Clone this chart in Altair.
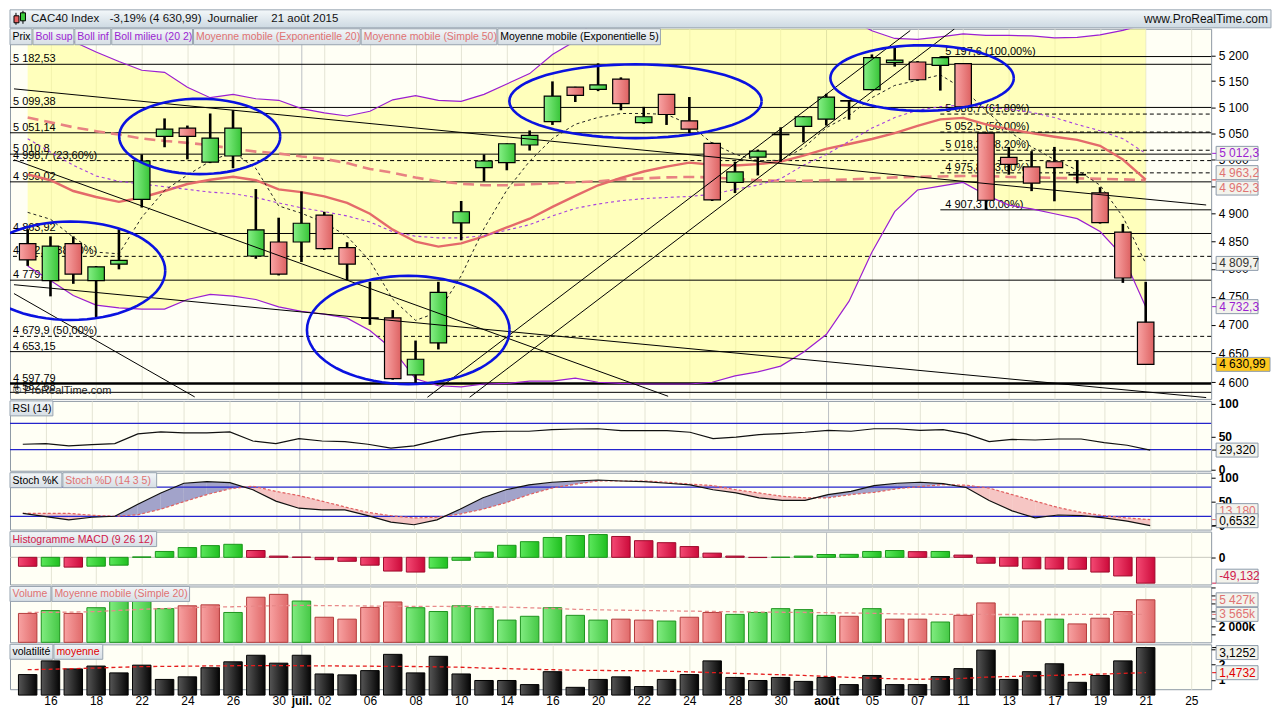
import math
import altair as alt
import pandas as pd

# ------------------------------------------------------------------ data
dates = ["2015-06-15", "2015-06-16", "2015-06-17", "2015-06-18", "2015-06-19", "2015-06-22",
         "2015-06-23", "2015-06-24", "2015-06-25", "2015-06-26", "2015-06-29", "2015-06-30",
         "2015-07-01", "2015-07-02", "2015-07-03", "2015-07-06", "2015-07-07", "2015-07-08",
         "2015-07-09", "2015-07-10", "2015-07-13", "2015-07-14", "2015-07-15", "2015-07-16",
         "2015-07-17", "2015-07-20", "2015-07-21", "2015-07-22", "2015-07-23", "2015-07-24",
         "2015-07-27", "2015-07-28", "2015-07-29", "2015-07-30", "2015-07-31", "2015-08-03",
         "2015-08-04", "2015-08-05", "2015-08-06", "2015-08-07", "2015-08-10", "2015-08-11",
         "2015-08-12", "2015-08-13", "2015-08-14", "2015-08-17", "2015-08-18", "2015-08-19",
         "2015-08-20", "2015-08-21"]

opens = [4845.6, 4778.7, 4845.6, 4778.7, 4808.3, 4926.6, 5044.3, 5059.8, 4996.0, 5007.3,
         4823.0, 4848.4, 4848.4, 4897.6, 4838.1, 4712.5, 4712.6, 4612.7, 4668.6, 4883.5,
         4985.7, 4994.9, 5028.0, 5072.2, 5138.3, 5134.0, 5153.9, 5070.4, 5124.5, 5073.9,
         5031.2, 4958.2, 5005.4, 5047.5, 5063.1, 5076.9, 5112.5, 5133.7, 5185.7, 5187.0,
         5180.6, 5183.9, 5050.4, 5004.7, 4986.9, 4996.6, 4972.8, 4938.7, 4866.4, 4704.8]
highs = [4871.7, 4858.7, 4858.7, 4805.0, 4871.7, 5010.3, 5078.4, 5064.8, 5087.8, 5094.0,
         4945.6, 4892.8, 4941.3, 4903.7, 4848.0, 4776.6, 4726.2, 4672.5, 4776.6, 4923.6,
         5010.3, 5031.0, 5055.5, 5149.4, 5139.0, 5184.4, 5157.2, 5100.5, 5125.0, 5119.3,
         5033.0, 4996.6, 5019.5, 5061.6, 5083.0, 5125.5, 5113.0, 5201.7, 5214.5, 5188.8,
         5197.6, 5185.0, 5051.0, 5024.4, 5016.5, 5024.4, 4999.2, 4949.1, 4881.5, 4776.6]
lows = [4805.2, 4750.6, 4773.0, 4711.7, 4799.0, 4911.5, 5023.8, 5001.0, 4994.0, 4984.4,
        4818.0, 4788.0, 4812.3, 4834.0, 4779.5, 4700.1, 4604.5, 4597.5, 4657.0, 4851.5,
        4960.0, 4980.6, 5017.6, 5066.0, 5109.8, 5130.6, 5094.0, 5068.0, 5066.0, 5050.4,
        4923.6, 4938.2, 4971.0, 4996.6, 5033.0, 5064.9, 5076.0, 5132.0, 5178.1, 5151.0,
        5131.7, 5099.0, 4907.3, 4972.3, 4941.8, 4923.0, 4956.4, 4882.0, 4774.7, 4630.0]
closes = [4815.9, 4841.0, 4790.5, 4803.4, 4815.2, 4998.0, 5057.9, 5044.3, 5041.1, 5059.8,
          4870.6, 4790.5, 4882.6, 4836.4, 4808.3, 4711.5, 4606.4, 4639.9, 4757.6, 4903.7,
          4998.0, 5030.4, 5046.2, 5121.2, 5122.4, 5142.5, 5106.6, 5081.6, 5085.9, 5057.9,
          4925.5, 4977.7, 5016.5, 5048.5, 5081.6, 5119.3, 5111.5, 5195.4, 5190.8, 5152.6,
          5195.4, 5100.5, 4924.9, 4991.8, 4956.6, 4985.7, 4971.8, 4883.8, 4783.4, 4630.99]

boll_sup = [5275, 5250, 5227, 5206.5, 5188, 5171, 5167, 5138, 5118, 5124.5,
            5116, 5113, 5097, 5089, 5083, 5092, 5114, 5122, 5113, 5111,
            5124.5, 5144.4, 5164.5, 5201.7, 5228, 5280, 5300, 5310, 5315, 5320,
            5320, 5318, 5320, 5325, 5330, 5310, 5272, 5248, 5233, 5231,
            5236, 5242, 5239, 5239, 5238, 5234, 5235, 5240, 5249, 5261]
boll_inf = [4805, 4779, 4752, 4735, 4730, 4728, 4728, 4745, 4754, 4751,
            4745, 4732, 4724, 4719, 4712, 4690, 4657, 4606, 4594, 4592,
            4597, 4598, 4602, 4602, 4607, 4600, 4598, 4597, 4597, 4597,
            4600, 4611, 4618, 4628, 4652, 4683, 4742, 4830, 4904, 4944,
            4951, 4958, 4934.5, 4916, 4909, 4900, 4891, 4867.6, 4823, 4732.3]
boll_mid = [5040, 5015, 4990, 4970, 4960, 4955, 4950, 4945, 4940, 4937,
            4930, 4920, 4911, 4904, 4896, 4885, 4867, 4859, 4856, 4856,
            4860, 4870, 4880, 4896, 4910, 4918, 4924, 4928, 4930, 4932,
            4936, 4945, 4953, 4965, 4990, 5010, 5035, 5060, 5080, 5094,
            5101, 5104, 5100, 5096, 5090, 5080, 5067, 5055, 5040, 5012.3]
ema20 = [4973, 4962, 4942, 4931, 4922, 4930, 4942, 4955, 4963, 4968.5,
         4962, 4945, 4940, 4932, 4920, 4900, 4871, 4849, 4840, 4846,
         4858.7, 4875, 4891, 4912.7, 4933, 4952.7, 4966.4, 4978.3, 4987.5, 4994.9,
         4991, 4989.4, 4992, 4996.7, 5008, 5020.8, 5030, 5039.3, 5050.4, 5064.4,
         5076.5, 5079.4, 5067.2, 5058, 5050.4, 5043.7, 5037.6, 5026.5, 5000.6, 4963.2]
sma50 = [5080.3, 5070.9, 5061.6, 5054.2, 5047.7, 5040.3, 5035.7, 5032.1, 5027.5, 5021.1,
         5015.6, 5012, 5006.5, 5002, 4994, 4983, 4976, 4967, 4960, 4955.5,
         4952.8, 4952.8, 4954.6, 4956.4, 4958.2, 4960, 4963.7, 4965.5, 4967.3, 4968.2,
         4967.3, 4964.6, 4961.9, 4961, 4961, 4961.9, 4963.7, 4965.5, 4967.3, 4968.2,
         4969.1, 4970, 4970, 4968.2, 4967.3, 4966.4, 4965.5, 4964.6, 4963.7, 4962.3]
ema5 = [4902.6, 4890, 4857, 4830, 4827, 4893.5, 4943, 4971.7, 4997.6, 5015,
        4984, 4914.5, 4901, 4884, 4858.7, 4814, 4745.4, 4708, 4722.7, 4787.5,
        4873, 4943.7, 4997.6, 5040.2, 5067.2, 5080.3, 5087.8, 5087.8, 5086, 5067.2,
        5031, 5010.8, 4998.5, 4999.4, 5022.6, 5060.6, 5084, 5118, 5141.6, 5151.5,
        5162, 5135, 5093.5, 5054, 5024.5, 5000.6, 4981, 4952.7, 4894.6, 4809.7]

rsi = [38.2, 39.3, 35.8, 37.8, 39.3, 54.1, 57.0, 55.6, 55.6, 57.0,
       43.2, 39.3, 46.7, 43.2, 42.2, 38.2, 32.4, 35.8, 44.2, 52.1,
       57.0, 58.1, 58.1, 60.5, 61.5, 61.9, 59.0, 59.0, 59.0, 56.5,
       46.7, 49.1, 53.0, 54.5, 56.5, 59.5, 58.1, 61.9, 61.9, 59.5,
       60.5, 54.1, 42.2, 45.6, 44.7, 46.2, 46.2, 40.7, 36.7, 29.32]
rsi_levels = [70, 30]

stoch_k = [26, 19.2, 12.6, 18, 20, 44.6, 68, 88, 91.2, 89.2,
           74.6, 51.2, 36.6, 33.2, 33.2, 21.2, 8, 2.6, 12.6, 34.6,
           58, 74.6, 84.6, 90, 92.6, 94.6, 92.6, 91.2, 88, 84.6,
           74.6, 68, 58, 52.6, 52.6, 64.6, 71.2, 83.2, 88, 90,
           87.2, 79.2, 52.6, 31.2, 16.6, 22.6, 21.2, 16.6, 10, 0.6532]
stoch_d = [26, 26, 26, 22, 20, 23.2, 34.6, 50, 64.6, 76.6,
           82, 71.2, 62.6, 51.2, 39.2, 28, 21.2, 16.6, 18, 24.6,
           34.6, 48, 64.6, 78, 86, 92.6, 92.6, 92.6, 90, 86,
           83.2, 74.6, 68, 61.2, 58, 58, 64.6, 69.2, 76.6, 81.2,
           85, 84, 78, 64.6, 51.2, 38, 28, 21.2, 16.6, 13.18]
stoch_levels = [80, 20]

macd_hist = [-17.0, -16.8, -18.6, -16.8, -14.9, 0.8, 11.2, 18.6, 22.3, 24.8,
             13.0, 2.4, 0.6, -4.4, -7.5, -14.9, -26.1, -28.0, -20.5, -5.6,
             9.9, 22.9, 29.8, 37.8, 41.5, 43.4, 39.7, 31.7, 27.9, 20.5,
             8.0, 2.4, -0.4, 0.3, 2.4, 5.4, 5.7, 11.2, 13.0, 10.8,
             11.2, 4.3, -11.2, -16.8, -21.8, -22.2, -22.6, -28.0, -35.4, -49.132]

volume_k = [3688, 4053, 3688, 4418, 5792, 5595, 4297, 4662, 4784, 3809,
            5757, 6123, 5271, 3201, 2957, 4455, 5149, 4418, 3931, 4662,
            4297, 2836, 3322, 4418, 3444, 2836, 2957, 2836, 2714, 3201,
            3809, 3566, 3809, 4297, 4175, 3444, 3322, 4297, 2957, 2957,
            2592, 3444, 5027, 3201, 2714, 2957, 2349, 3079, 3931, 5427]
volume_ma20_k = [3810, 3820, 3860, 3920, 4070, 4215, 4315, 4410, 4490, 4540,
                 4610, 4690, 4710, 4690, 4660, 4630, 4610, 4590, 4580, 4570,
                 4530, 4490, 4410, 4315, 4215, 4150, 4100, 4060, 4020, 3980,
                 3940, 3900, 3870, 3840, 3810, 3780, 3745, 3705, 3640, 3600,
                 3575, 3560, 3555, 3550, 3550, 3552, 3555, 3558, 3562, 3565]

volatility = [1.35, 2.25, 1.72, 1.91, 1.46, 1.97, 1.03, 1.20, 1.80, 2.19,
              2.62, 2.10, 2.62, 1.39, 1.33, 1.61, 2.68, 1.46, 2.55, 1.39,
              0.96, 0.96, 0.69, 1.54, 0.51, 1.03, 1.20, 0.56, 1.03, 1.35,
              2.25, 1.16, 0.96, 1.16, 0.90, 1.16, 0.69, 1.29, 0.69, 0.69,
              1.22, 1.74, 2.96, 1.03, 1.54, 2.06, 0.84, 1.29, 2.25, 3.1252]
volatility_avg = [1.67, 1.70, 1.74, 1.78, 1.83, 1.87, 1.89, 1.90, 1.92, 1.93,
                  1.94, 1.94, 1.93, 1.92, 1.91, 1.90, 1.89, 1.88, 1.86, 1.83,
                  1.78, 1.74, 1.70, 1.67, 1.64, 1.62, 1.61, 1.60, 1.57, 1.53,
                  1.48, 1.43, 1.38, 1.34, 1.29, 1.23, 1.17, 1.12, 1.07, 1.04,
                  1.05, 1.10, 1.18, 1.22, 1.26, 1.30, 1.34, 1.38, 1.43, 1.4732]

tick_pos = [1, 3, 5, 7, 9, 11, 12, 13, 15, 17, 19, 21, 23, 25, 27, 29, 31, 33, 35,
            37, 39, 41, 43, 45, 47, 49, 51]
tick_labels = ["16", "18", "22", "24", "26", "30", "juil.", "02", "06", "08", "10", "14",
               "16", "20", "22", "24", "28", "30", "août", "05", "07", "11", "13", "17",
               "19", "21", "25"]
month_ticks = [12, 35]

level_values = [5182.53, 5099.38, 5051.14, 5010.8, 4998.7, 4959.02, 4863.92, 4822.4,
                4779.54, 4679.9, 4653.15, 4597.79, 4582.68]
level_labels = ["5 182,53", "5 099,38", "5 051,14", "5 010,8", "4 998,7 (23,60%)", "4 959,02",
                "4 863,92", "4 822,4 (38,20%)", "4 779,54", "4 679,9 (50,00%)", "4 653,15",
                "4 597,79", "4 582,68"]
level_kind = ["solid", "solid", "solid", "solid", "dash", "solid", "solid", "dash",
              "solid", "dash", "solid", "thick", "solid"]

fib_anchor = 40
fib_values = [5197.6, 5086.7, 5052.5, 5018.2, 4975.8, 4907.3]
fib_labels = ["5 197,6 (100,00%)", "5 086,7 (61,80%)", "5 052,5 (50,00%)",
              "5 018,2 (38,20%)", "4 975,8 (23,60%)", "4 907,3 (0,00%)"]
fib_kind = ["solid", "dash", "dash", "dash", "dash", "solid"]

# trend lines: (start index, start price, end index, end price)
trendlines = [(-0.6, 5135.0, 51.65, 4916.2),
              (-0.6, 5000.3, 28.07, 4575.9),
              (-0.6, 4771.4, 51.65, 4573.7),
              (-0.6, 4755.6, 7.32, 4574.8),
              (17.52, 4574.2, 38.68, 5248.5),
              (19.37, 4574.2, 40.62, 5251.8)]
# hand-drawn ellipses: (centre index, centre price, radius in days, radius in log-price)
ellipses = [(1.88, 4796.4, 4.15, 0.01845),
            (7.54, 5044.2, 3.53, 0.01414),
            (16.68, 4691.1, 4.44, 0.0203),
            (26.64, 5111.3, 5.53, 0.01384),
            (39.2, 5155.8, 4.02, 0.0123)]

# ------------------------------------------------------------------ layout
FONT = "Liberation Sans, Arial, Helvetica, sans-serif"
W = 1204
H_MAIN, H_RSI, H_STO, H_MACD, H_VOL, H_VTY = 371, 70, 57, 53, 56, 45
XDOM = [-0.556, 51.65]
BG = "#fffff5"
GRID = "#e4e4d4"
GRID_M = "#bcc0c4"
BOX_FILL = "#f3f3ec"
BOX_STROKE = "#8d9bab"
PURPLE = "#9b1fd2"
SALMON = "#e07272"

N = len(closes)
idx = list(range(N))
dummy = pd.DataFrame({"d": [0]})


def grad(c1, c2, vertical=False):
    return alt.LinearGradient(
        gradient="linear",
        stops=[alt.GradientStop(color=c1, offset=0), alt.GradientStop(color=c2, offset=1)],
        x1=0, x2=0 if vertical else 1, y1=0, y2=1 if vertical else 0)


mcond = "||".join(f"datum.value=={m}" for m in month_ticks)


def xaxis(bottom=False):
    common = dict(values=tick_pos, grid=True,
                  gridColor={"expr": f"({mcond}) ? '{GRID_M}' : '{GRID}'"},
                  domain=False, ticks=False, title=None)
    if bottom:
        expr = "".join(f"datum.value=={p}?'{l}':" for p, l in zip(tick_pos, tick_labels)) + "''"
        return alt.Axis(labels=True, labelExpr=expr, labelFont=FONT, labelFontSize=12,
                        labelColor="#000", labelPadding=6, labelFlush=False, labelOverlap=False,
                        labelFontWeight={"expr": f"({mcond}) ? 'bold' : 'normal'"}, **common)
    return alt.Axis(labels=False, **common)


XS = alt.Scale(domain=XDOM, nice=False, zero=False)


def make_x(bottom=False):
    def X(field):
        return alt.X(f"{field}:Q", scale=XS, axis=xaxis(bottom))
    return X


def make_y(scale, axis):
    def Y(field):
        return alt.Y(f"{field}:Q", scale=scale, axis=axis)
    return Y


def rect_v(x0, x1, y0, y1, fill, stroke=None):
    kw = dict(fill=fill)
    if stroke:
        kw.update(stroke=stroke, strokeWidth=1)
    return alt.Chart(dummy).mark_rect(**kw).encode(
        x=alt.value(x0), x2=alt.value(x1), y=alt.value(y0), y2=alt.value(y1))


def text_v(x, y, s, color="#000", size=10.5, align="left", weight="normal"):
    return alt.Chart(dummy).mark_text(align=align, baseline="middle", font=FONT, fontSize=size,
                                      color=color, fontWeight=weight).encode(
        x=alt.value(x), y=alt.value(y), text=alt.value(s))


LEG_FILL = grad("#f3f6f8", "#d6dee5", vertical=True)


def legend_boxes(items, h=15):
    out = []
    for x0, x1, s, c in items:
        out.append(rect_v(x0, x1, 0, h, LEG_FILL, "#98a4b0"))
        out.append(text_v(x0 + 2.5, h / 2 + 0.5, s, c))
    return out


def value_box(Y, value, s, color, dy=0, fill=BOX_FILL, x1=W + 47):
    df = pd.DataFrame({"v": [value], "t": [s]})
    r = alt.Chart(df).mark_rect(fill=fill, stroke=BOX_STROKE, strokeWidth=1,
                                yOffset=dy - 7, y2Offset=dy + 7).encode(
        x=alt.value(W + 5), x2=alt.value(x1), y=Y("v"), y2="v:Q")
    t = alt.Chart(df).mark_text(align="left", baseline="middle", dy=dy, font=FONT, fontSize=12,
                                color=color).encode(x=alt.value(W + 8), y=Y("v"), text="t:N")
    tick = alt.Chart(df).mark_rule(color=color, strokeWidth=1).encode(
        x=alt.value(W + 1), x2=alt.value(W + 5), y=Y("v"))
    return [r, tick, t]


X = make_x(False)
XB = make_x(True)

# ------------------------------------------------------------------ main price panel
YS_MAIN = alt.Scale(type="log", domain=[4571.4, 5252], nice=False)
price_axis = alt.Axis(orient="right", values=list(range(4600, 5201, 50)),
                      labelExpr="replace(format(datum.value, ','), ',', ' ')",
                      grid=False, domain=False, tickSize=4, tickColor="#000",
                      labelFont=FONT, labelFontSize=12, labelColor="#000", labelPadding=3,
                      labelOverlap=False, labelFlush=False, title=None)
YM = make_y(YS_MAIN, price_axis)

cd = pd.DataFrame({"i": idx, "o": opens, "h": highs, "l": lows, "c": closes})
cd["up"] = cd["c"] >= cd["o"]
ma = pd.DataFrame({"i": idx, "sup": boll_sup, "inf": boll_inf, "mid": boll_mid,
                   "ema20": ema20, "sma50": sma50, "ema5": ema5})
lv = pd.DataFrame({"v": level_values, "t": level_labels, "k": level_kind})
fb = pd.DataFrame({"v": fib_values, "t": fib_labels, "k": fib_kind,
                   "i0": [fib_anchor] * len(fib_values)})

tl_rows = []
for n, (a, pa, b, pb) in enumerate(trendlines):
    tl_rows += [{"id": n, "i": a, "p": pa}, {"id": n, "i": b, "p": pb}]
tl = pd.DataFrame(tl_rows)

el_rows = []
for n, (ci, cp, ri, rl) in enumerate(ellipses):
    for k in range(73):
        t = 2 * math.pi * k / 72
        el_rows.append({"id": n, "k": k, "i": ci + ri * math.cos(t),
                        "p": cp * math.exp(rl * math.sin(t))})
el = pd.DataFrame(el_rows)

main_layers = []
main_layers.append(alt.Chart(ma).mark_area(color="#ffff8c", opacity=0.55, clip=True).encode(
    x=X("i"), y=YM("sup"), y2="inf"))
for kind, kw in [("solid", dict(strokeWidth=1)), ("dash", dict(strokeWidth=1, strokeDash=[4, 3])),
                 ("thick", dict(strokeWidth=2.6))]:
    main_layers.append(alt.Chart(lv[lv.k == kind]).mark_rule(color="#000", **kw).encode(y=YM("v")))
for kind, kw in [("solid", dict(strokeWidth=1)), ("dash", dict(strokeWidth=1, strokeDash=[4, 3]))]:
    main_layers.append(alt.Chart(fb[fb.k == kind]).mark_rule(color="#000", **kw).encode(
        x=X("i0"), x2=alt.value(W), y=YM("v")))
main_layers.append(alt.Chart(lv).mark_text(align="left", baseline="alphabetic", dy=-2, font=FONT,
                                           fontSize=11, color="#000").encode(
    x=alt.value(3), y=YM("v"), text="t:N"))
main_layers.append(alt.Chart(fb).mark_text(align="left", baseline="alphabetic", dx=5, dy=-2,
                                           font=FONT, fontSize=11, color="#000").encode(
    x=X("i0"), y=YM("v"), text="t:N"))


def mline(field, color, width, dash=None):
    kw = dict(color=color, strokeWidth=width, clip=True)
    if dash:
        kw["strokeDash"] = dash
    return alt.Chart(ma).mark_line(**kw).encode(x=X("i"), y=YM(field))


main_layers += [mline("sma50", "#e88282", 2.6, [11, 6]),
                mline("ema20", "#e46a6a", 2.4),
                mline("mid", "#a640e0", 1.1, [3, 3]),
                mline("sup", PURPLE, 1.2),
                mline("inf", PURPLE, 1.2),
                mline("ema5", "#222", 1.0, [3, 3])]
main_layers.append(alt.Chart(cd).mark_rule(color="#000", strokeWidth=2.6).encode(
    x=X("i"), y=YM("l"), y2="h"))
main_layers.append(alt.Chart(cd[cd.up]).mark_bar(width=16.5, fill=grad("#86f086", "#38c438"),
                                                 stroke="#000", strokeWidth=1.2).encode(
    x=X("i"), y=YM("o"), y2="c"))
main_layers.append(alt.Chart(cd[~cd.up]).mark_bar(width=16.5, fill=grad("#f9a4a4", "#dd6262"),
                                                  stroke="#000", strokeWidth=1.2).encode(
    x=X("i"), y=YM("o"), y2="c"))
main_layers.append(alt.Chart(tl).mark_line(color="#000", strokeWidth=1, clip=True).encode(
    x=X("i"), y=YM("p"), detail="id:N"))
main_layers.append(alt.Chart(el).mark_line(color="#0a12e0", strokeWidth=2.6, clip=True).encode(
    x=X("i"), y=YM("p"), detail="id:N", order="k:Q"))
main_layers.append(text_v(3, H_MAIN - 8, "© ProRealTime.com", "#222", size=11))

# header bar (above the price panel)
main_layers.append(rect_v(0, W + 60, -19, -1, grad("#f4f8fa", "#cdd9e2", vertical=True), "#9aa6b2"))
main_layers.append(alt.Chart(dummy).mark_rule(color="#000", strokeWidth=1).encode(
    x=alt.value(6), y=alt.value(-16), y2=alt.value(-4)))
main_layers.append(rect_v(4, 9, -13, -6, "#e86060", "#000"))
main_layers.append(alt.Chart(dummy).mark_rule(color="#000", strokeWidth=1).encode(
    x=alt.value(13), y=alt.value(-18), y2=alt.value(-5)))
main_layers.append(rect_v(10.5, 15.5, -16, -8, "#3ccc3c", "#000"))
for x0, s in [(21, "CAC40 Index"), (100, "-3,19% (4 630,99)"), (198, "Journalier"),
              (262, "21 août 2015")]:
    main_layers.append(text_v(x0, -9.5, s, "#111", size=11.5))
main_layers.append(text_v(W + 57, -9.5, "www.ProRealTime.com", "#111", size=12, align="right"))

main_layers += legend_boxes([(0, 22, "Prix", "#000"), (23, 64, "Boll sup", PURPLE),
                             (65, 101, "Boll inf", PURPLE), (102, 183, "Boll milieu (20 2)", PURPLE),
                             (184, 351, "Moyenne mobile (Exponentielle 20)", SALMON),
                             (352, 488, "Moyenne mobile (Simple 50)", SALMON),
                             (489, 652, "Moyenne mobile (Exponentielle 5)", "#000")], h=16)

main_layers += value_box(YM, boll_mid[-1], "5 012,3", PURPLE)
main_layers += value_box(YM, ema20[-1], "4 963,2", SALMON, dy=-7)
main_layers += value_box(YM, sma50[-1], "4 962,3", SALMON, dy=8)
main_layers += value_box(YM, ema5[-1], "4 809,7", "#333")
main_layers += value_box(YM, boll_inf[-1], "4 732,3", PURPLE)
main_layers += value_box(YM, closes[-1], "4 630,99", "#000", fill="#ffc81e", x1=W + 59)

main = alt.layer(*main_layers).properties(width=W, height=H_MAIN)


# ------------------------------------------------------------------ sub panels
def sub_axis(values, expr=None):
    kw = dict(orient="right", values=values, grid=False, domain=False, tickSize=4,
              tickColor="#000", labelFont=FONT, labelFontSize=12, labelFontWeight="bold",
              labelColor="#000", labelPadding=3, labelOverlap=False, labelFlush=False, title=None)
    if expr:
        kw["labelExpr"] = expr
    return alt.Axis(**kw)


# RSI
YR = make_y(alt.Scale(domain=[-2.2, 104.4], nice=False, zero=False), sub_axis([0, 50, 100]))
rs = pd.DataFrame({"i": idx, "v": rsi})
rl = pd.DataFrame({"v": rsi_levels})
rsi_layers = [alt.Chart(rl).mark_rule(color="#2424cc", strokeWidth=1.3).encode(y=YR("v")),
              alt.Chart(rs).mark_line(color="#111", strokeWidth=1.2).encode(x=X("i"), y=YR("v"))]
rsi_layers += legend_boxes([(0, 43, "RSI (14)", "#000")])
rsi_layers += value_box(YR, rsi[-1], "29,320", "#000")
rsi_chart = alt.layer(*rsi_layers).properties(width=W, height=H_RSI)

# Stochastic
YSt = make_y(alt.Scale(domain=[-7.4, 109.6], nice=False, zero=False), sub_axis([0, 50, 100]))
seg = []
sid = 0
for j in range(N - 1):
    k0, k1, d0, d1 = stoch_k[j], stoch_k[j + 1], stoch_d[j], stoch_d[j + 1]
    a0, a1 = k0 - d0, k1 - d1
    if a0 * a1 < 0:
        t = a0 / (a0 - a1)
        xm, ym = j + t, k0 + t * (k1 - k0)
        s0 = "up" if a0 > 0 else "dn"
        s1 = "up" if a1 > 0 else "dn"
        seg += [(sid, j, k0, d0, s0), (sid, xm, ym, ym, s0)]
        sid += 1
        seg += [(sid, xm, ym, ym, s1), (sid, j + 1, k1, d1, s1)]
        sid += 1
    else:
        s = "up" if (a0 + a1) > 0 else "dn"
        seg += [(sid, j, k0, d0, s), (sid, j + 1, k1, d1, s)]
        sid += 1
sg = pd.DataFrame(seg, columns=["sid", "x", "k", "d", "s"])
st = pd.DataFrame({"i": idx, "k": stoch_k, "d": stoch_d})
sl = pd.DataFrame({"v": stoch_levels})
sto_layers = [
    alt.Chart(sg).mark_area().encode(
        x=X("x"), y=YSt("k"), y2="d", detail="sid:N",
        color=alt.Color("s:N", scale=alt.Scale(domain=["up", "dn"], range=["#a2a3ca", "#f6c6c4"]),
                        legend=None)),
    alt.Chart(sl).mark_rule(color="#2424cc", strokeWidth=1.3).encode(y=YSt("v")),
    alt.Chart(st).mark_line(color="#e06060", strokeWidth=1.2, strokeDash=[3, 2]).encode(
        x=X("i"), y=YSt("d")),
    alt.Chart(st).mark_line(color="#111", strokeWidth=1.2).encode(x=X("i"), y=YSt("k")),
]
sto_layers += legend_boxes([(0, 52, "Stoch %K", "#000"), (53, 147, "Stoch %D (14 3 5)", SALMON)])
sto_layers += value_box(YSt, stoch_d[-1], "13,180", SALMON, dy=-9)
sto_layers += value_box(YSt, stoch_k[-1], "0,6532", "#000", dy=-5)
sto_chart = alt.layer(*sto_layers).properties(width=W, height=H_STO)

# MACD histogram
YMa = make_y(alt.Scale(domain=[-51.6, 49], nice=False, zero=False), sub_axis([0]))
mc = pd.DataFrame({"i": idx, "v": macd_hist})
mc["up"] = [False] + [macd_hist[j] >= macd_hist[j - 1] for j in range(1, N)]
macd_layers = [
    alt.Chart(pd.DataFrame({"v": [0]})).mark_rule(color="#c9c9c0", strokeWidth=1).encode(y=YMa("v")),
    alt.Chart(mc[mc.up]).mark_bar(width=18.5, fill=grad("#5ce85c", "#1fbf1f"), stroke="#1a961a",
                                  strokeWidth=1).encode(x=X("i"), y=YMa("v"), y2=alt.datum(0)),
    alt.Chart(mc[~mc.up]).mark_bar(width=18.5, fill=grad("#f44a74", "#cc0a3a"), stroke="#9e0a2c",
                                   strokeWidth=1).encode(x=X("i"), y=YMa("v"), y2=alt.datum(0)),
]
macd_layers += legend_boxes([(0, 147, "Histogramme MACD (9 26 12)", "#d0204c")])
macd_layers += value_box(YMa, macd_hist[-1], "-49,132", "#d0204c", dy=-7)
macd_chart = alt.layer(*macd_layers).properties(width=W, height=H_MACD)

# Volume
YV = make_y(alt.Scale(domain=[0, 7130], nice=False, zero=False),
            sub_axis([1000, 2000, 3000, 4000, 5000, 6000, 7000],
                     "datum.value==2000 ? '2 000k' : ''"))
vd = pd.DataFrame({"i": idx, "v": volume_k, "m": volume_ma20_k})
vd["up"] = [closes[0] >= opens[0]] + [closes[j] >= closes[j - 1] for j in range(1, N)]
vol_layers = [
    alt.Chart(vd[vd.up]).mark_bar(width=18.5, fill=grad("#80ec80", "#46c846"), stroke="#1e941e",
                                  strokeWidth=1).encode(x=X("i"), y=YV("v"), y2=alt.datum(0)),
    alt.Chart(vd[~vd.up]).mark_bar(width=18.5, fill=grad("#f8a2a2", "#e06a6a"), stroke="#b43c3c",
                                   strokeWidth=1).encode(x=X("i"), y=YV("v"), y2=alt.datum(0)),
    alt.Chart(vd).mark_line(color="#e88a8a", strokeWidth=1.3, strokeDash=[4, 3]).encode(
        x=X("i"), y=YV("m")),
]
vol_layers += legend_boxes([(0, 41, "Volume", SALMON), (42, 180, "Moyenne mobile (Simple 20)", SALMON)])
vol_layers += value_box(YV, volume_k[-1], "5 427k", SALMON)
vol_layers += value_box(YV, volume_ma20_k[-1], "3 565k", SALMON)
vol_chart = alt.layer(*vol_layers).properties(width=W, height=H_VOL)

# Volatility
YVt = make_y(alt.Scale(domain=[0.386, 3.34], nice=False, zero=False), sub_axis([1, 2, 3]))
vt = pd.DataFrame({"i": idx, "v": volatility, "m": volatility_avg})
vty_layers = [
    alt.Chart(vt).mark_bar(width=18.5, fill=grad("#565656", "#050505"), stroke="#000",
                           strokeWidth=1).encode(x=XB("i"), y=YVt("v"), y2=alt.value(H_VTY)),
    alt.Chart(vt).mark_line(color="#e41c1c", strokeWidth=1.3, strokeDash=[4, 3]).encode(
        x=XB("i"), y=YVt("m")),
]
vty_layers += legend_boxes([(0, 43, "volatilité", "#000"), (44, 93, "moyenne", "#e00000")])
vty_layers += value_box(YVt, volatility[-1], "3,1252", "#000", dy=5)
vty_layers += value_box(YVt, volatility_avg[-1], "1,4732", "#e00000")
vty_chart = alt.layer(*vty_layers).properties(width=W, height=H_VTY)

chart = alt.vconcat(main, rsi_chart, sto_chart, macd_chart, vol_chart, vty_chart,
                    spacing=2, bounds="flush", padding=0).configure(
    font=FONT, background="#ffffff").configure_view(stroke="#8e99a4", fill=BG, strokeWidth=1)

chart.save("out.html", embed_options={"renderer": "svg", "actions": False})
